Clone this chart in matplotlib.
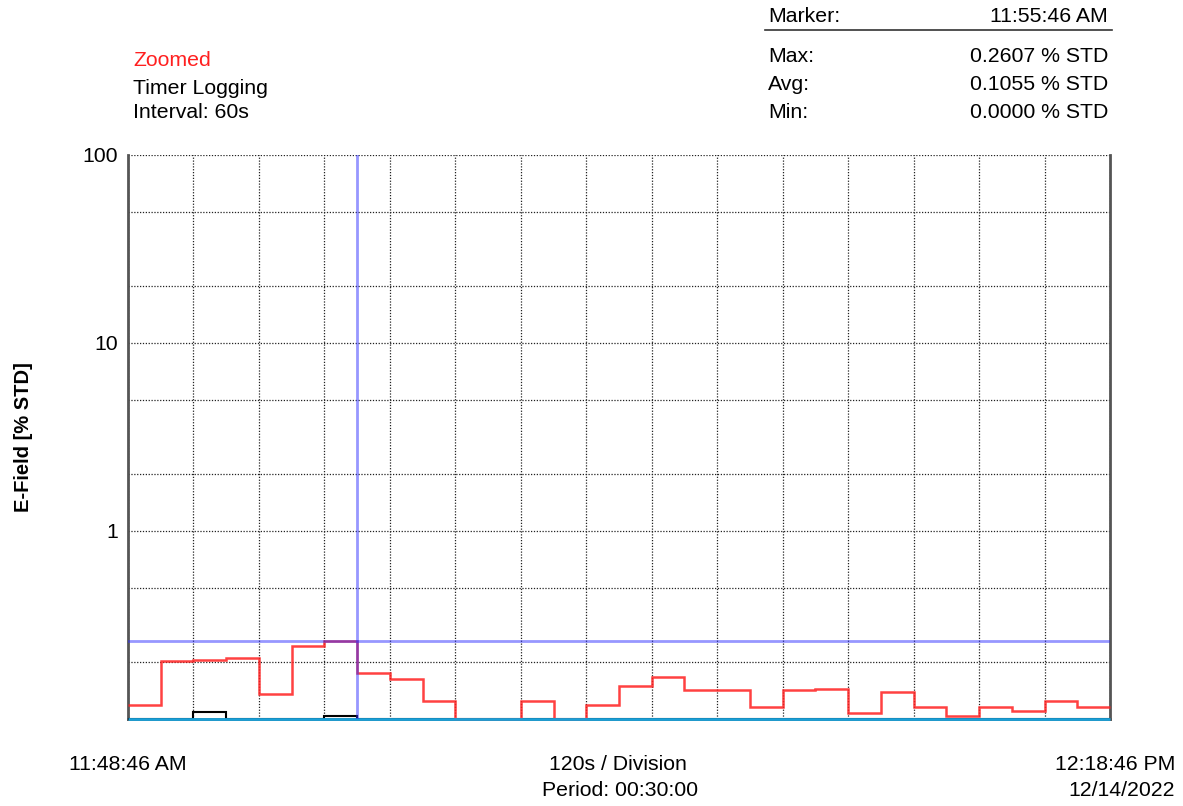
import numpy as np
import matplotlib
matplotlib.use("Agg")
import matplotlib.pyplot as plt
from matplotlib.ticker import FixedLocator, NullFormatter

plt.rcParams['font.family'] = ['Liberation Sans', 'DejaVu Sans']

# ---- data (60 s intervals over 30 minutes) ----
interval_s = 60
red_vals = [0.118, 0.204, 0.207, 0.210, 0.135, 0.245, 0.2607, 0.176, 0.164, 0.124,
            0.0, 0.0, 0.125, 0.0, 0.119, 0.149, 0.168, 0.142, 0.142, 0.116,
            0.142, 0.145, 0.107, 0.140, 0.116, 0.104, 0.116, 0.110, 0.125, 0.116]
black_vals = [0.0, 0.0, 0.109, 0.0, 0.0, 0.0, 0.104, 0.0, 0.0, 0.0,
              0.0, 0.0, 0.0, 0.0, 0.0, 0.0, 0.0, 0.0, 0.0, 0.0,
              0.0, 0.0, 0.0, 0.0, 0.0, 0.0, 0.0, 0.0, 0.0, 0.0]
cyan_vals = [0.0] * 30
marker_s = 420          # 11:55:46 AM
max_val = 0.2607
y_min, y_max = 0.1, 100
y_major = [1, 10, 100]
y_major_labels = ["1", "10", "100"]
y_minor = [0.2, 0.5, 2, 5, 20, 50]
division_s = 120
period_s = 1800

stats_labels = ["Max:", "Avg:", "Min:"]
stats_values = ["0.2607 % STD", "0.1055 % STD", "0.0000 % STD"]

FS = 15.3

fig = plt.figure(figsize=(11.83, 8.06), dpi=100)
ax = fig.add_axes([128/1183, 1-719/806, (1110-128)/1183, (719-155)/806])

edges = np.arange(len(red_vals) + 1) * interval_s

def disp(v):
    v = np.asarray(v, dtype=float)
    return np.where(v > y_min, v, y_min)

ax.set_yscale('log')
ax.set_ylim(y_min, y_max)
ax.set_xlim(0, period_s)

ax.stairs(disp(black_vals), edges, baseline=None, color='black', lw=1.5, zorder=4, clip_on=False)
ax.stairs(disp(red_vals), edges, baseline=None, color='#ff2020', lw=1.8, alpha=0.85, zorder=5, clip_on=False)
ax.stairs(disp(cyan_vals), edges, baseline=None, color='#1aa0d8', lw=2, zorder=5.5, clip_on=False)

ax.axvline(marker_s, color='#3030ff', lw=2, alpha=0.5, zorder=6)
ax.axhline(max_val, color='#3030ff', lw=2, alpha=0.5, zorder=6)

ax.yaxis.set_major_locator(FixedLocator(y_major))
ax.set_yticklabels(y_major_labels)
ax.yaxis.set_minor_locator(FixedLocator(y_minor))
ax.yaxis.set_minor_formatter(NullFormatter())
ax.set_xticks(np.arange(0, period_s + 1, division_s))
ax.set_xticklabels([])
ax.tick_params(axis='both', which='both', length=0, labelsize=FS, pad=7)
ax.grid(True, which='both', axis='both', color='#222222', lw=0.9, linestyle=(0, (1, 1.3)))
ax.set_axisbelow(True)

for s in ['left', 'bottom', 'right']:
    ax.spines[s].set_color('#555555')
    ax.spines[s].set_linewidth(2)
ax.spines['top'].set_visible(False)

ax.set_ylabel("E-Field [% STD]", fontsize=14.5, fontweight='bold')
ax.yaxis.set_label_coords(-0.097, 0.5)

def T(x, y, s, **kw):
    fig.text(x/1183, 1-y/806, s, fontsize=FS, va='center', **kw)

T(133, 61, "Zoomed", color='#ff2020')
T(133, 88, "Timer Logging")
T(133, 112, "Interval: 60s")

T(768, 17, "Marker:")
T(1108, 17, "11:55:46 AM", ha='right')
fig.add_artist(plt.Line2D([765/1183, 1112/1183], [1-30/806, 1-30/806], color='#333333', lw=1.2))
for i, (l, v) in enumerate(zip(stats_labels, stats_values)):
    yy = 57 + 28 * i
    T(768, yy, l)
    T(1108, yy, v, ha='right')

T(128, 765, "11:48:46 AM", ha='center')
T(618, 765, "120s / Division", ha='center')
T(620, 791, "Period: 00:30:00", ha='center')
T(1175, 765, "12:18:46 PM", ha='right')
T(1175, 791, "12/14/2022", ha='right')

fig.savefig("out.png", dpi=100)
